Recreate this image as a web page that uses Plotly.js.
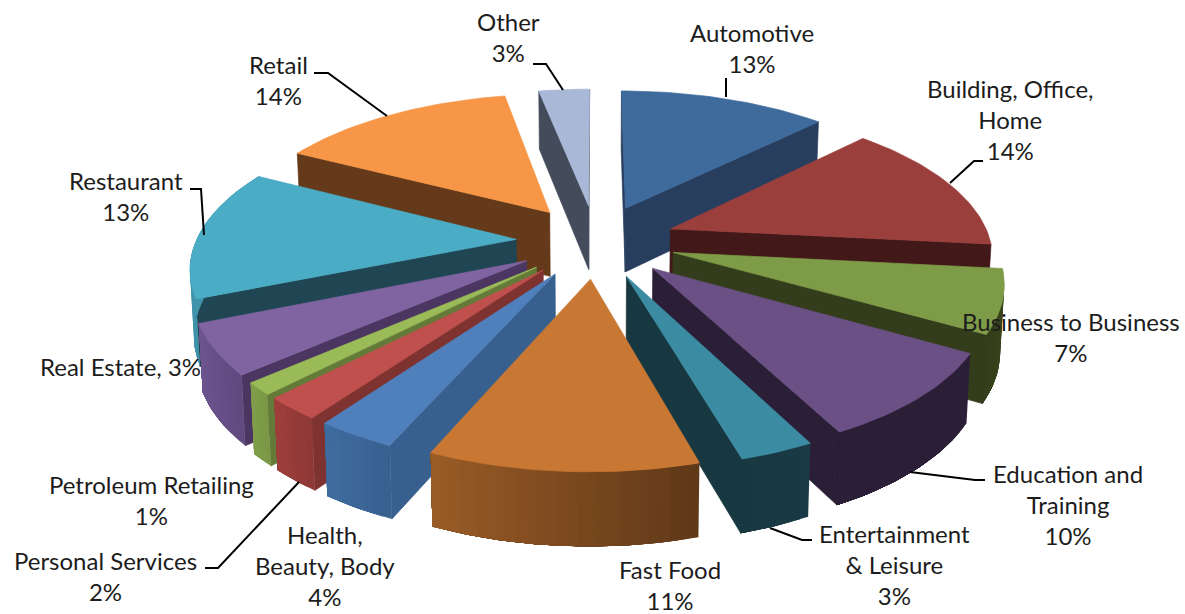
<!DOCTYPE html>
<html><head><meta charset="utf-8">
<script src="https://cdn.plot.ly/plotly-3.0.1.min.js"></script>
<style>html,body{margin:0;padding:0;background:#fff}#chart{width:1185px;height:614px}</style>
</head><body><div id="chart"></div>
<script>
// Data
const categories = ["Automotive","Building, Office, Home","Business to Business","Education and Training","Entertainment & Leisure","Fast Food","Health, Beauty, Body","Personal Services","Petroleum Retailing","Real Estate","Restaurant","Retail","Other"];
const arcShares = [12.5,14.17,6.67,9.17,3.06,11.0,3.3,2.36,1.28,5.25,13.92,14.28,3.06];
// percentages as printed on the chart
const printedPercent = [13,14,7,10,3,11,4,2,1,3,13,14,3];

// Styles
const topColors  = ["#3E6A9C","#9A3F3C","#7E9B47","#6A5084","#3B8CA3","#C97834","#4F80BC","#C0504D","#9BBB59","#8064A2","#4BACC6","#F79646","#A9B8D6"];
const cutColors  = ["#283E5E","#421818","#333D1B","#2B1F38","#173840","#643A18","#38608F","#7F3331","#637A38","#4A3660","#1F4652","#643A1A","#444C5C"];
const sideStart  = ["#283E5E","#421818","#3C4A1C","#2B1F38","#1A3B46","#5F3818","#38608F","#8C3835","#7A9746","#5F4A7F","#3F93AA","#643A1A","#444C5C"];
const sideEnd    = ["#283E5E","#421818","#333D1B","#2B1F38","#173840","#9A5C26","#3F6D9F","#A03F3C","#809E4A","#6E5690","#3F93AA","#643A1A","#444C5C"];

// Label layout
const labelText = [
 "Automotive<br>13%","Building, Office,<br>Home<br>14%","Business to Business<br>7%","Education and<br>Training<br>10%",
 "Entertainment<br>& Leisure<br>3%","Fast Food<br>11%","Health,<br>Beauty, Body<br>4%","Personal Services<br>2%",
 "Petroleum Retailing<br>1%","Real Estate, 3%","Restaurant<br>13%","Retail<br>14%","Other<br>3%"];
const labelX = [752,1010,1071,1068,894,670,325,105,151,120,126,278,508];
const labelY = [48,119,337,504,564,585,565,576,500,366,196,80,37];
const leaderX = [[726,726],[950,974,983],[910,975,985],[770,802,812],[299,218,205],[204,201,190],[387,328,314],[563,546,533]];
const leaderY = [[97,78],[183,161,161],[472,480,480],[528,540,540],[482,568,568],[235,189,189],[116,73,73],[90,64,64]];

// Projection of the tilted, exploded pie
const cx=596, cy=241, persp=1940, tilt=889, R=320, pull=80, depth=65;
function project(X,Y,bottom){
  const p=persp/(persp+Y);
  let sx=cx+X*p, sy=cy-tilt+tilt*p;
  if(bottom){ sx=cx+(sx-cx)*0.99; sy+=depth*Math.pow(p,0.6); }
  return [sx,sy];
}
const hex=c=>[1,3,5].map(i=>parseInt(c.slice(i,i+2),16));
function mix(a,b,t){const A=hex(a),B=hex(b);return "rgb("+A.map((v,i)=>Math.round(v+(B[i]-v)*t)).join(",")+")";}
function poly(pts,color,name,hover,edge){
  const xs=pts.map(q=>q[0]); const ys=pts.map(q=>q[1]);
  xs.push(xs[0]); ys.push(ys[0]);
  return {type:"scatter",mode:"lines",x:xs,y:ys,fill:"toself",fillcolor:color,
    line:{color:color,width:edge===undefined?0.7:edge},name:name,showlegend:false,
    hoverinfo:hover?"text":"skip",text:hover||undefined,hoveron:"fills"};
}
const total=arcShares.reduce((a,b)=>a+b,0);
const slices=[]; let acc=0;
arcShares.forEach((v,i)=>{
  const a1=acc/total*2*Math.PI; acc+=v; const a2=acc/total*2*Math.PI;
  const m=(a1+a2)/2;
  slices.push({i,a1,a2,m,ox:pull*Math.sin(m),oy:pull*Math.cos(m)});
});
slices.sort((s,t)=>t.oy-s.oy);
const traces=[];
slices.forEach(s=>{
  const {i,a1,a2,ox,oy}=s;
  const rim=a=>[ox+R*Math.sin(a),oy+R*Math.cos(a)];
  const P=(q,b)=>project(q[0],q[1],b);
  const apex=[ox,oy];
  const cut=(a,sign)=>{
    const n=[sign*Math.cos(a),-sign*Math.sin(a)];
    const dot=n[0]*(-ox)+n[1]*(-persp-oy);
    if(dot>0){ const r=rim(a); traces.push(poly([P(apex),P(r),P(r,true),P(apex,true)],cutColors[i],categories[i])); }
  };
  cut(a1,-1); cut(a2,1);
  const n=Math.max(2,Math.ceil((a2-a1)/(1.5*Math.PI/180)));
  // each wall strip runs from its own start to the far end of the arc and later strips
  // paint over it, so neighbouring strips overlap and no seams show
  for(let k=0;k<n;k++){
    const mid=a1+(a2-a1)*(k+.5)/n, q=rim(mid);
    const dot=Math.sin(mid)*(-q[0])+Math.cos(mid)*(-persp-q[1]);
    if(dot<=0) continue;
    const top=[],bot=[];
    for(let j=k;j<=n;j++){ const c=a1+(a2-a1)*j/n, r=rim(c); top.push(P(r)); bot.unshift(P(r,true)); }
    traces.push(poly(top.concat(bot),mix(sideStart[i],sideEnd[i],(k+.5)/n),categories[i],null,0));
  }
  const top=[P(apex)];
  for(let k=0;k<=n;k++) top.push(P(rim(a1+(a2-a1)*k/n)));
  traces.push(poly(top,topColors[i],categories[i],categories[i]+": "+printedPercent[i]+"%"));
});
leaderX.forEach((xs,i)=>traces.push({type:"scatter",mode:"lines",x:xs,y:leaderY[i],line:{color:"#000",width:2},showlegend:false,hoverinfo:"skip"}));

const layout={width:1185,height:614,margin:{l:0,r:0,t:0,b:0},paper_bgcolor:"#fff",plot_bgcolor:"#fff",showlegend:false,
  xaxis:{range:[0,1185],visible:false,fixedrange:true},
  yaxis:{range:[614,0],visible:false,fixedrange:true},
  annotations:labelText.map((t,i)=>({text:t,x:labelX[i],y:labelY[i],xref:"x",yref:"y",showarrow:false,xanchor:"center",yanchor:"middle",align:"center",
    font:{family:"Lato, Carlito, sans-serif",size:24,color:"#1c1c1c"}}))};
Plotly.newPlot("chart",traces,layout,{displayModeBar:false,staticPlot:true});
</script></body></html>
